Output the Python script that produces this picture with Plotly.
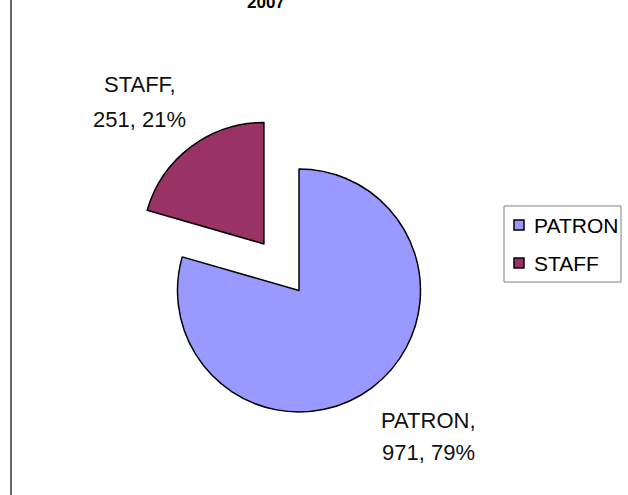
import plotly.graph_objects as go

# ---- data ----
labels = ["PATRON", "STAFF"]
values = [971, 251]
colors = ["#9999FF", "#993366"]
pulls = [0, 0.48]
title_text = "2007"

W, H = 628, 495
total = sum(values)
pcts = [round(v * 100 / total) for v in values]


def px(x):
    return x / W


def py(y):
    return 1 - y / H


# pie geometry (pixels)
cx, cy, r = 299, 290.5, 121.5
box = r * (2 + 2 * max(pulls))
dom_x = [px(cx - box / 2), px(cx + box / 2)]
dom_y = [py(cy + box / 2), py(cy - box / 2)]

fig = go.Figure()
fig.add_trace(go.Pie(
    labels=labels, values=values, sort=False, direction="clockwise", rotation=0,
    marker=dict(colors=colors, line=dict(color="black", width=1.5)),
    pull=pulls, textinfo="none", showlegend=False,
    domain=dict(x=dom_x, y=dom_y),
))

label_font = dict(family="Liberation Sans, Arial", size=22, color="#111")
# data labels: (x center, line1 y, line2 y)
label_pos = {"PATRON": (428, 420, 452), "STAFF": (139.5, 84.5, 119)}
for lab, v, p in zip(labels, values, pcts):
    lx, y1, y2 = label_pos[lab]
    for txt, yy in ((f"{lab},", y1), (f"{v}, {p}%", y2)):
        fig.add_annotation(x=px(lx), y=py(yy), xref="paper", yref="paper", text=txt,
                           showarrow=False, xanchor="center", yanchor="middle", font=label_font)

# legend (manual, from data)
leg_box = (504, 206, 621, 282)
leg_rows = [225, 263]
shapes = [dict(type="rect", xref="paper", yref="paper",
               x0=px(leg_box[0]), x1=px(leg_box[2]), y0=py(leg_box[3]), y1=py(leg_box[1]),
               line=dict(color="#808080", width=1), fillcolor="white")]
for lab, col, yy in zip(labels, colors, leg_rows):
    shapes.append(dict(type="rect", xref="paper", yref="paper",
                       x0=px(514), x1=px(524), y0=py(yy + 5), y1=py(yy - 5),
                       line=dict(color="black", width=1.5), fillcolor=col))
    fig.add_annotation(x=px(532), y=py(yy), xref="paper", yref="paper", text=lab,
                       showarrow=False, xanchor="left", yanchor="middle",
                       font=dict(family="Liberation Sans, Arial", size=21, color="black"))

# left border line
shapes.append(dict(type="line", xref="paper", yref="paper", x0=px(11), x1=px(11), y0=0, y1=1,
                   line=dict(color="#333333", width=1.5)))

# title (partly cut off at the top, as in the reference)
fig.add_annotation(x=px(266), y=py(14.5), xref="paper", yref="paper",
                   text=f"<b>{title_text}</b>", showarrow=False,
                   xanchor="center", yanchor="bottom",
                   font=dict(family="Liberation Sans, Arial", size=17, color="black"))

fig.update_layout(
    width=W, height=H,
    margin=dict(l=0, r=0, t=0, b=0),
    paper_bgcolor="white", plot_bgcolor="white",
    showlegend=False,
    shapes=shapes,
)

fig.write_html("out.html", config={"displayModeBar": False},
               post_script="document.body.style.margin='0px';")
